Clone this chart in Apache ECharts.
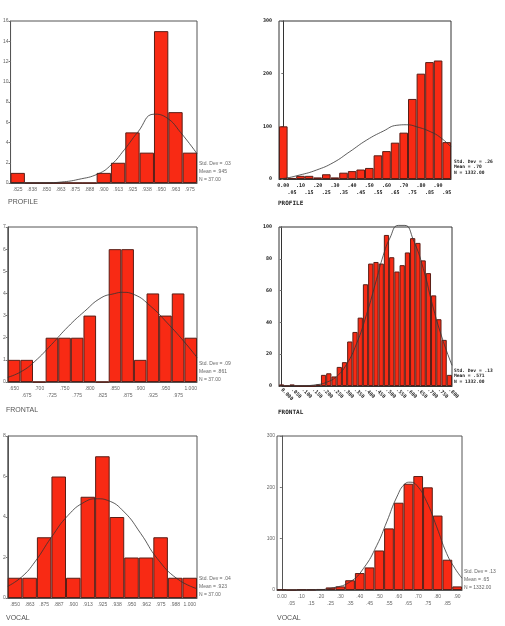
<!DOCTYPE html>
<html lang="en">
<head>
<meta charset="utf-8">
<title>Histograms</title>
<script src="https://cdn.jsdelivr.net/npm/echarts/dist/echarts.min.js"></script>
</head>
<body style="margin:0;background:#fff">
<div id="chart" style="width:505px;height:626px;"></div>
<script>
// PROFILE (N = 37)
const p1Bins = ['.825','.838','.850','.863','.875','.888','.900','.913','.925','.938','.950','.963','.975'];
const p1Counts = [1,0,0,0,0,0,1,2,5,3,15,7,3];
const p1Range = [0.81875, 0.98125];
const p1Curve = [[0.81875,0],[0.849,0.02],[0.8633,0.1],[0.8777,0.35],[0.895,0.9],[0.9065,1.8],[0.918,3.3],[0.9295,5.0],[0.9439,6.8],[0.9554,6.4],[0.9669,5.0],[0.98125,2.9]];
const p1Stats = ['Std. Dev = .03', 'Mean = .945', 'N = 37.00'];

// PROFILE (N = 1332)
const p2Bins = ['0.00','.05','.10','.15','.20','.25','.30','.35','.40','.45','.50','.55','.60','.65','.70','.75','.80','.85','.90','.95'];
const p2Counts = [100,2,6,6,3,9,3,12,15,18,21,45,53,69,88,152,200,222,225,70];
const p2Range = [-0.025, 0.975];
const p2Curve = [[-0.025,0.5],[-0.002,1],[0.096,7.6],[0.193,17],[0.29,31],[0.387,52],[0.485,74],[0.582,91],[0.66,102],[0.718,103],[0.777,99],[0.854,90],[0.913,79],[0.975,61]];
const p2Stats = ['Std. Dev = .26', 'Mean = .70', 'N = 1332.00'];

// FRONTAL (N = 37)
const p3Bins = ['.650','.675','.700','.725','.750','.775','.800','.825','.850','.875','.900','.925','.950','.975','1.000'];
const p3Counts = [1,1,0,2,2,2,3,0,6,6,1,4,3,4,2];
const p3Range = [0.6375, 1.0125];
const p3Curve = [[0.6375,0.21],[0.665,0.48],[0.691,0.93],[0.724,1.69],[0.757,2.5],[0.7896,3.19],[0.8224,3.8],[0.8486,3.99],[0.865,4.05],[0.888,3.95],[0.9207,3.42],[0.9535,2.67],[0.9863,1.84],[1.0125,1.11]];
const p3Stats = ['Std. Dev = .09', 'Mean = .861', 'N = 37.00'];

// FRONTAL (N = 1332)
const p4Bins = ['0.000','.025','.050','.075','.100','.125','.150','.175','.200','.225','.250','.275','.300','.325','.350','.375','.400','.425','.450','.475','.500','.525','.550','.575','.600','.625','.650','.675','.700','.725','.750','.775','.800'];
const p4Counts = [1,0,1,0,0,0,0,1,7,8,6,12,15,28,34,43,64,77,78,77,95,81,72,76,84,93,90,79,71,57,42,29,7];
const p4Range = [-0.0125, 0.8125];
const p4Curve = [[-0.0125,0],[0.0862,0.1],[0.166,0.8],[0.2136,2.3],[0.2614,5.9],[0.309,13.5],[0.357,26.5],[0.405,45],[0.4526,67],[0.4844,82],[0.5163,93],[0.556,101],[0.588,101],[0.6278,92],[0.6753,74],[0.7233,49],[0.771,28],[0.8125,13]];
const p4Stats = ['Std. Dev = .13', 'Mean = .571', 'N = 1332.00'];

// VOCAL (N = 37)
const p5Bins = ['.850','.863','.875','.887','.900','.913','.925','.938','.950','.962','.975','.988','1.000'];
const p5Counts = [1,1,3,6,1,5,7,4,2,2,3,1,1];
const p5Range = [0.84375, 1.00625];
const p5Curve = [[0.84375,0.58],[0.8557,1.04],[0.867,1.78],[0.8812,3.0],[0.8955,4.08],[0.9097,4.74],[0.921,4.9],[0.9295,4.82],[0.9437,4.25],[0.958,3.18],[0.9721,1.95],[0.9892,0.95],[1.00625,0.46]];
const p5Stats = ['Std. Dev = .04', 'Mean = .923', 'N = 37.00'];

// VOCAL (N = 1332)
const p6Bins = ['0.00','.05','.10','.15','.20','.25','.30','.35','.40','.45','.50','.55','.60','.65','.70','.75','.80','.85','.90'];
const p6Counts = [1,0,1,1,2,5,7,19,33,44,77,120,170,207,222,200,145,59,7];
const p6Range = [-0.025, 0.925];
const p6Curve = [[-0.025,0],[0.009,0],[0.18,0.6],[0.2655,4.5],[0.351,16],[0.419,42],[0.4876,87],[0.5388,133],[0.59,181],[0.6327,207],[0.6585,210],[0.6924,204],[0.7437,172],[0.795,123],[0.8464,71],[0.889,42],[0.925,23]];
const p6Stats = ['Std. Dev = .13', 'Mean = .65', 'N = 1332.00'];

const sans = 'Liberation Sans';
const pix = 'DejaVu Sans Mono';

const panels = [
  {bins:p1Bins, counts:p1Counts, range:p1Range, curve:p1Curve, stats:p1Stats, title:'PROFILE',
   grid:{left:8, top:21, width:189, height:162}, ymax:16, step:2, pixel:false, twoRow:false,
   statsPos:[199,163], titlePos:[8,199]},
  {bins:p2Bins, counts:p2Counts, range:p2Range, curve:p2Curve, stats:p2Stats, title:'PROFILE',
   grid:{left:279, top:21, width:172, height:158}, ymax:300, step:100, pixel:true, twoRow:true,
   statsPos:[454,162], titlePos:[278,200]},
  {bins:p3Bins, counts:p3Counts, range:p3Range, curve:p3Curve, stats:p3Stats, title:'FRONTAL',
   grid:{left:6, top:227, width:191, height:155}, ymax:7, step:1, pixel:false, twoRow:true,
   statsPos:[199,363], titlePos:[6,407]},
  {bins:p4Bins, counts:p4Counts, range:p4Range, curve:p4Curve, stats:p4Stats, title:'FRONTAL',
   grid:{left:279, top:227, width:173, height:159}, ymax:100, step:20, pixel:true, rotate:true,
   statsPos:[454,371], titlePos:[278,409]},
  {bins:p5Bins, counts:p5Counts, range:p5Range, curve:p5Curve, stats:p5Stats, title:'VOCAL',
   grid:{left:6, top:436, width:191, height:162}, ymax:8, step:2, pixel:false, twoRow:false,
   statsPos:[199,578], titlePos:[6,615]},
  {bins:p6Bins, counts:p6Counts, range:p6Range, curve:p6Curve, stats:p6Stats, title:'VOCAL',
   grid:{left:277, top:436, width:185, height:154}, ymax:300, step:100, pixel:false, twoRow:true,
   statsPos:[464,571], titlePos:[277,615]}
];

let option = {
  animation: false,
  backgroundColor: '#fff',
  grid: [], xAxis: [], yAxis: [], series: [], graphic: []
};

panels.forEach((p, i) => {
  const txt = p.pixel
    ? {fontFamily: pix, fontWeight: 'bold', fontSize: 5, color: '#222'}
    : {fontFamily: sans, fontSize: 5, color: '#666'};
  option.grid.push(Object.assign({show: true, borderColor: p.pixel ? '#333' : '#555', borderWidth: 1}, p.grid));
  option.xAxis.push({
    type: 'category', gridIndex: i, data: p.bins,
    axisLine: {lineStyle: {color: p.pixel ? '#333' : '#555'}},
    axisTick: {alignWithLabel: true, length: 2, lineStyle: {color: '#777'}},
    axisLabel: Object.assign({
      interval: p.rotate ? 1 : 0,
      margin: 3,
      rotate: p.rotate ? -45 : 0,
      lineHeight: 7,
      formatter: (v, k) => (p.twoRow && k % 2) ? '\n' + v : v
    }, txt)
  });
  option.xAxis.push({
    type: 'value', gridIndex: i, min: p.range[0], max: p.range[1], show: false
  });
  option.yAxis.push({
    type: 'value', gridIndex: i, min: 0, max: p.ymax, interval: p.step,
    splitLine: {show: false},
    axisLine: {show: true, lineStyle: {color: p.pixel ? '#333' : '#555'}},
    axisTick: {show: true, length: 2, lineStyle: {color: '#777'}},
    axisLabel: Object.assign({margin: p.pixel ? 7 : 2}, txt)
  });
  option.series.push({
    type: 'bar', xAxisIndex: 2 * i, yAxisIndex: i, data: p.counts,
    barWidth: '100%',
    itemStyle: {color: '#f82a14', borderColor: '#5a1e16', borderWidth: 1}
  });
  option.series.push({
    type: 'line', xAxisIndex: 2 * i + 1, yAxisIndex: i, data: p.curve,
    smooth: true, symbol: 'none', clip: false,
    lineStyle: {color: '#333', width: 0.8}
  });
  option.graphic.push({
    type: 'text', left: p.statsPos[0], top: p.statsPos[1] - 3,
    style: {text: p.stats.join('\n'), fontFamily: txt.fontFamily, fontWeight: txt.fontWeight || 'normal',
            fontSize: p.pixel ? 4.6 : 5, lineHeight: p.pixel ? 5.5 : 8, fill: txt.color}
  });
  option.graphic.push({
    type: 'text', left: p.titlePos[0], top: p.titlePos[1],
    style: {text: p.title, fontFamily: p.pixel ? pix : sans, fontWeight: p.pixel ? 'bold' : 'normal',
            fontSize: p.pixel ? 6 : 7, fill: p.pixel ? '#222' : '#555'}
  });
});

let myChart = echarts.init(document.getElementById('chart'));
myChart.setOption(option);
</script>
</body>
</html>
